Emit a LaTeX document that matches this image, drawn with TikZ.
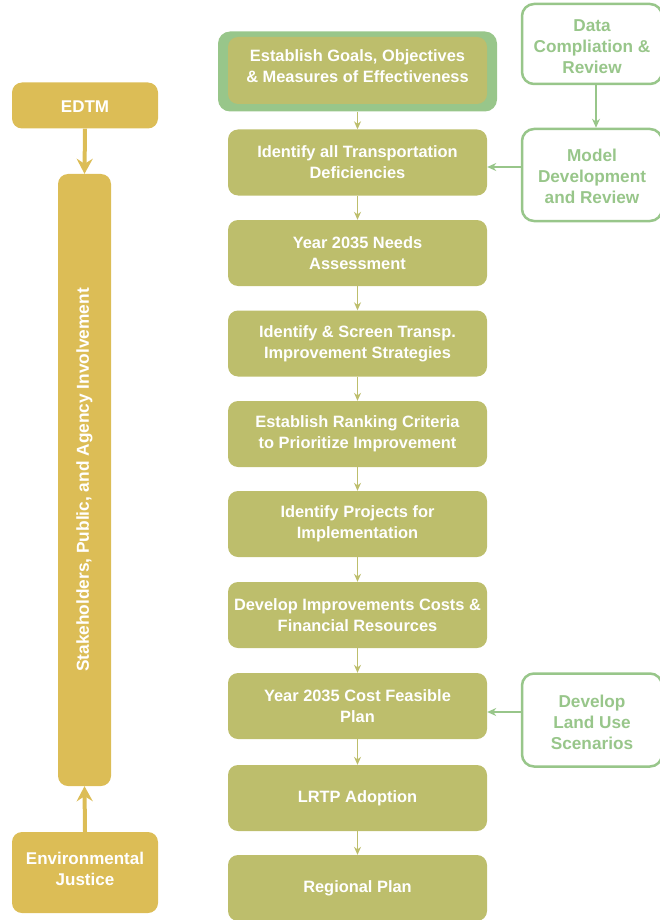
\documentclass[tikz,border=0pt]{standalone}
\usepackage{fontspec}
\setmainfont{Liberation Sans}
\usetikzlibrary{arrows.meta}
\definecolor{olive}{RGB}{189,190,108}
\definecolor{lgreen}{RGB}{152,198,138}
\definecolor{gold}{RGB}{220,189,86}
\begin{document}
\begin{tikzpicture}[x=1pt,y=-1pt,
  mainbox/.style={fill=olive,rounded corners=10pt,minimum width=259pt,minimum height=66pt,
    text=white,font=\fontsize{16.4}{21}\selectfont\bfseries,align=center,inner sep=0pt},
  sidebox/.style={draw=lgreen,line width=2.5pt,fill=white,rounded corners=12pt,minimum width=140pt,minimum height=90pt},
  sidetext/.style={text=lgreen,font=\fontsize{17.2}{21}\selectfont\bfseries,align=center,inner sep=0pt},
  goldbox/.style={fill=gold,rounded corners=10pt,text=white,font=\fontsize{17}{21}\selectfont\bfseries,align=center,inner sep=0pt},
  thin/.style={draw=olive,line width=1pt,-{Stealth[length=8pt,width=7pt]}},
  garrow/.style={draw=lgreen,line width=1.3pt,-{Stealth[length=9pt,width=8pt]}},
  thick/.style={draw=gold,line width=4pt,-{Stealth[length=15pt,width=16pt,inset=5pt]}}
]
\useasboundingbox (0,0) rectangle (660,920);
% goals box
\node[fill=lgreen,rounded corners=12pt,minimum width=279pt,minimum height=80pt] (gout) at (357.5,71.5) {};
\node[mainbox,minimum width=259pt,minimum height=67pt] (b1) at (357.5,70.5) {};
\node[text=white,font=\fontsize{16.4}{21}\selectfont\bfseries,align=center,inner sep=0pt] (b1t) at (357.5,66) {Establish Goals, Objectives\\\& Measures of Effectiveness};
\node[mainbox] (b2) at (357.5,162.5) {Identify all Transportation\\Deficiencies};
\node[mainbox] (b3) at (357.5,253) {Year 2035 Needs\\Assessment};
\node[mainbox] (b4) at (357.5,343.5) {Identify \& Screen Transp.\\Improvement Strategies};
\node[mainbox] (b5) at (357.5,434) {Establish Ranking Criteria\\to Prioritize Improvement};
\node[mainbox] (b6) at (357.5,524) {Identify Projects for\\Implementation};
\node[mainbox] (b7) at (357.5,615) {Develop Improvements Costs \&\\Financial Resources};
\node[mainbox] (b8) at (357.5,706) {Year 2035 Cost Feasible\\Plan};
\node[mainbox] (b9) at (357.5,798) {LRTP Adoption};
\node[mainbox] (b10) at (357.5,888) {Regional Plan};
\draw[thin] (gout.south -| b1.south) -- (b2.north);
\foreach \a/\b in {b2/b3,b3/b4,b4/b5,b5/b6,b6/b7,b7/b8,b8/b9,b9/b10}
  \draw[thin] (\a.south) -- (\b.north);
% side boxes
\node[sidebox,minimum height=80pt] (s1) at (592,44) {};
\node[sidetext] (s1t) at (592,47) {Data\\Compliation \&\\Review};
\node[sidebox,minimum height=92pt] (s2) at (592,175) {};
\node[sidetext] (s2t) at (592,176) {Model\\Development\\and Review};
\node[sidebox,minimum height=93pt] (s3) at (592,720) {};
\node[sidetext] (s3t) at (592,722) {Develop\\Land Use\\Scenarios};
\draw[garrow] (s1.south -| 596,0) -- (s2.north -| 596,0);
\draw[garrow] (s2.west |- 0,167) -- (b2.east |- 0,167);
\draw[garrow] (s3.west |- 0,712) -- (b8.east |- 0,712);
% left side
\node[goldbox,minimum width=146pt,minimum height=46pt] (edtm) at (85,105.5) {};
\node[text=white,font=\fontsize{17}{21}\selectfont\bfseries,inner sep=0pt] (edtmt) at (85,107) {EDTM};
\node[goldbox,minimum width=53pt,minimum height=612pt,rounded corners=10pt] (bar) at (84.5,480) {};
\node[text=white,font=\fontsize{17.3}{21}\selectfont\bfseries,rotate=90] (barlabel) at (bar.center) {Stakeholders, Public, and Agency Involvement};
\node[goldbox,minimum width=146pt,minimum height=81pt] (ej) at (85,872.5) {};
\node[text=white,font=\fontsize{17}{21}\selectfont\bfseries,align=center,inner sep=0pt] (ejt) at (85,869) {Environmental\\Justice};
\draw[thick] (edtm.south) -- (bar.north);
\draw[thick] (ej.north) -- (bar.south);
\end{tikzpicture}
\end{document}
